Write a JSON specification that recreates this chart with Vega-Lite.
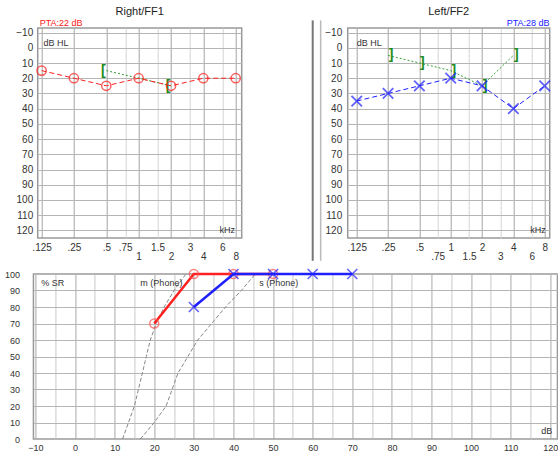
{
  "$schema": "https://vega.github.io/schema/vega-lite/v6.json",
  "padding": {"left": 3, "top": 5, "right": 0, "bottom": 0},
  "background": "white",
  "config": {
    "font": "Liberation Sans",
    "view": {"stroke": "#999", "strokeWidth": 1.5},
    "axis": {"labelFont": "Liberation Sans", "labelFontSize": 10, "labelColor": "#333", "domain": false, "ticks": false, "gridColor": "#b5b5b5", "gridWidth": 1, "title": null, "labelOverlap": false}
  },
  "datasets": {
    "rightAC": [{"f": 0.125, "db": 15}, {"f": 0.25, "db": 20}, {"f": 0.5, "db": 25}, {"f": 1, "db": 20}, {"f": 2, "db": 25}, {"f": 4, "db": 20}, {"f": 8, "db": 20}],
    "rightBC": [{"f": 0.5, "db": 15}, {"f": 2, "db": 25}],
    "leftAC": [{"f": 0.125, "db": 35}, {"f": 0.25, "db": 30}, {"f": 0.5, "db": 25}, {"f": 1, "db": 20}, {"f": 2, "db": 25}, {"f": 4, "db": 40}, {"f": 8, "db": 25}],
    "leftBC": [{"f": 0.25, "db": 5}, {"f": 0.5, "db": 10}, {"f": 1, "db": 15}, {"f": 2, "db": 25}, {"f": 4, "db": 5}],
    "speechR": [{"db": 20, "pct": 70}, {"db": 30, "pct": 100}, {"db": 40, "pct": 100}, {"db": 50, "pct": 100}],
    "speechL": [{"db": 30, "pct": 80}, {"db": 40, "pct": 100}, {"db": 50, "pct": 100}, {"db": 60, "pct": 100}, {"db": 70, "pct": 100}],
    "refCurves": [
      {"curve": "m", "db": 12, "pct": 0}, {"curve": "m", "db": 13.5, "pct": 10}, {"curve": "m", "db": 15, "pct": 20}, {"curve": "m", "db": 16, "pct": 30}, {"curve": "m", "db": 17, "pct": 40}, {"curve": "m", "db": 18, "pct": 50}, {"curve": "m", "db": 19, "pct": 60}, {"curve": "m", "db": 20.5, "pct": 70}, {"curve": "m", "db": 22.5, "pct": 80}, {"curve": "m", "db": 25, "pct": 90}, {"curve": "m", "db": 28, "pct": 100},
      {"curve": "s", "db": 16.5, "pct": 0}, {"curve": "s", "db": 20, "pct": 10}, {"curve": "s", "db": 23, "pct": 20}, {"curve": "s", "db": 24.5, "pct": 30}, {"curve": "s", "db": 26, "pct": 40}, {"curve": "s", "db": 28.5, "pct": 50}, {"curve": "s", "db": 31, "pct": 60}, {"curve": "s", "db": 34.5, "pct": 70}, {"curve": "s", "db": 38, "pct": 80}, {"curve": "s", "db": 42, "pct": 90}, {"curve": "s", "db": 45.5, "pct": 100}
    ],
    "one": [{"k": 1}]
  },
  "vconcat": [
    {
      "hconcat": [
        {
          "width": 204, "height": 210,
          "title": {"text": "Right/FF1", "fontSize": 11, "fontWeight": "normal", "color": "#222", "offset": 2},
          "layer": [
            {"data": {"name": "rightBC"}, "mark": {"type": "line", "color": "#33a033", "strokeDash": [2, 2], "strokeWidth": 1},
              "encoding": {
                "x": {"field": "f", "type": "quantitative", "scale": {"type": "log", "domain": [0.115, 9.1], "nice": false},
                  "axis": {"values": [0.125, 0.25, 0.5, 0.75, 1, 1.5, 2, 3, 4, 6, 8], "tickCount": 100, "labelFlush": false, "labelOverlap": false,
                    "labelExpr": "datum.value < 1 ? slice(toString(datum.value), 1) : toString(datum.value)",
                    "labelPadding": {"condition": {"test": "indexof([1,2,4,8], datum.value) >= 0", "value": 13}, "value": 4},
                    "gridColor": {"condition": {"test": "indexof([0.75,1.5,3,6], datum.value) >= 0", "value": "#d5d5d5"}, "value": "#a5a5a5"}}},
                "y": {"field": "db", "type": "quantitative", "scale": {"domain": [-13, 125], "reverse": true, "nice": false, "zero": false},
                  "axis": {"values": [-10, 0, 10, 20, 30, 40, 50, 60, 70, 80, 90, 100, 110, 120], "tickCount": 100, "labelPadding": 5, "labelOverlap": false,
                    "title": "'", "titleFontSize": 6, "titlePadding": 3, "titleColor": "rgba(0,0,0,0)"}}
              }},
            {"data": {"name": "rightBC"}, "mark": {"type": "text", "text": "[", "color": "#1e8c1e", "fontSize": 14, "fontWeight": "bold", "dx": -3},
              "encoding": {"x": {"field": "f", "type": "quantitative"}, "y": {"field": "db", "type": "quantitative"}}},
            {"data": {"name": "rightAC"}, "mark": {"type": "line", "color": "#ff2020", "strokeDash": [5, 3], "strokeWidth": 1},
              "encoding": {"x": {"field": "f", "type": "quantitative"}, "y": {"field": "db", "type": "quantitative"}}},
            {"data": {"name": "rightAC"}, "mark": {"type": "point", "shape": "circle", "color": "#ff2020", "size": 85, "strokeWidth": 1.5, "filled": false},
              "encoding": {"x": {"field": "f", "type": "quantitative"}, "y": {"field": "db", "type": "quantitative"}}},
            {"data": {"name": "one"}, "mark": {"type": "text", "text": "PTA:22 dB", "color": "#ff2020", "fontSize": 9, "align": "left", "baseline": "bottom"},
              "encoding": {"x": {"datum": 0.12, "type": "quantitative"}, "y": {"datum": -13, "type": "quantitative"}}},
            {"data": {"name": "one"}, "mark": {"type": "text", "text": "dB HL", "color": "#333", "fontSize": 9, "align": "left", "baseline": "middle"},
              "encoding": {"x": {"datum": 0.13, "type": "quantitative"}, "y": {"datum": -3, "type": "quantitative"}}},
            {"data": {"name": "one"}, "mark": {"type": "text", "text": "kHz", "color": "#333", "fontSize": 9, "align": "right", "baseline": "middle"},
              "encoding": {"x": {"datum": 7.9, "type": "quantitative"}, "y": {"datum": 120, "type": "quantitative"}}}
          ]
        },
        {
          "width": 202, "height": 210,
          "title": {"text": "Left/FF2", "fontSize": 11, "fontWeight": "normal", "color": "#222", "offset": 2},
          "layer": [
            {"data": {"name": "leftBC"}, "mark": {"type": "line", "color": "#33a033", "strokeDash": [2, 2], "strokeWidth": 1},
              "encoding": {
                "x": {"field": "f", "type": "quantitative", "scale": {"type": "log", "domain": [0.1024, 8.94], "nice": false},
                  "axis": {"values": [0.125, 0.25, 0.5, 0.75, 1, 1.5, 2, 3, 4, 6, 8], "tickCount": 100, "labelFlush": false, "labelOverlap": false,
                    "labelExpr": "datum.value < 1 ? slice(toString(datum.value), 1) : toString(datum.value)",
                    "labelPadding": {"condition": {"test": "indexof([0.75,1.5,3,6], datum.value) >= 0", "value": 13}, "value": 4},
                    "gridColor": {"condition": {"test": "indexof([0.75,1.5,3,6], datum.value) >= 0", "value": "#d5d5d5"}, "value": "#a5a5a5"}}},
                "y": {"field": "db", "type": "quantitative", "scale": {"domain": [-13, 125], "reverse": true, "nice": false, "zero": false},
                  "axis": {"values": [-10, 0, 10, 20, 30, 40, 50, 60, 70, 80, 90, 100, 110, 120], "tickCount": 100, "labelPadding": 6, "labelOverlap": false}}
              }},
            {"data": {"name": "one"}, "mark": {"type": "rule", "color": "#777", "strokeWidth": 2},
              "encoding": {"x": {"datum": 0.0472, "type": "quantitative"}, "y": {"datum": -18, "type": "quantitative"}, "y2": {"datum": 140}}},
            {"data": {"name": "one"}, "mark": {"type": "rule", "color": "#bbb", "strokeWidth": 1.5},
              "encoding": {"x": {"datum": 0.0563, "type": "quantitative"}, "y": {"datum": -18, "type": "quantitative"}, "y2": {"datum": 140}}},
            {"data": {"name": "leftBC"}, "mark": {"type": "text", "text": "]", "color": "#1e8c1e", "fontSize": 14, "fontWeight": "bold", "dx": 3},
              "encoding": {"x": {"field": "f", "type": "quantitative"}, "y": {"field": "db", "type": "quantitative"}}},
            {"data": {"name": "leftAC"}, "mark": {"type": "line", "color": "#2020ff", "strokeDash": [5, 3], "strokeWidth": 1},
              "encoding": {"x": {"field": "f", "type": "quantitative"}, "y": {"field": "db", "type": "quantitative"}}},
            {"data": {"name": "leftAC"}, "mark": {"type": "point", "shape": "M-1,-1L1,1M-1,1L1,-1", "color": "#2020ff", "size": 110, "strokeWidth": 1.8, "filled": false},
              "encoding": {"x": {"field": "f", "type": "quantitative"}, "y": {"field": "db", "type": "quantitative"}}},
            {"data": {"name": "one"}, "mark": {"type": "text", "text": "PTA:28 dB", "color": "#2020ff", "fontSize": 9, "align": "right", "baseline": "bottom"},
              "encoding": {"x": {"datum": 8.9, "type": "quantitative"}, "y": {"datum": -13, "type": "quantitative"}}},
            {"data": {"name": "one"}, "mark": {"type": "text", "text": "dB HL", "color": "#333", "fontSize": 9, "align": "left", "baseline": "middle"},
              "encoding": {"x": {"datum": 0.125, "type": "quantitative"}, "y": {"datum": -3, "type": "quantitative"}}},
            {"data": {"name": "one"}, "mark": {"type": "text", "text": "kHz", "color": "#333", "fontSize": 9, "align": "right", "baseline": "middle"},
              "encoding": {"x": {"datum": 8.2, "type": "quantitative"}, "y": {"datum": 120, "type": "quantitative"}}}
          ]
        }
      ],
      "spacing": 66
    },
    {
      "width": 524, "height": 165,
      "layer": [
        {"data": {"name": "refCurves"}, "mark": {"type": "line", "color": "#888", "strokeDash": [4, 2], "strokeWidth": 1},
          "encoding": {
            "x": {"field": "db", "type": "quantitative", "scale": {"domain": [-10.5, 121.8], "nice": false, "zero": false},
              "axis": {"values": [-10, -5, 0, 5, 10, 15, 20, 25, 30, 35, 40, 45, 50, 55, 60, 65, 70, 75, 80, 85, 90, 95, 100, 105, 110, 115, 120], "tickCount": 100,
                "labelExpr": "datum.value % 10 == 0 ? datum.label : ''", "labelFlush": false, "labelOverlap": false, "labelPadding": 4, "labelFontSize": 9,
                "gridColor": {"condition": {"test": "datum.value % 10 == 0", "value": "#a8a8a8"}, "value": "#c8c8c8"}}},
            "y": {"field": "pct", "type": "quantitative", "scale": {"domain": [0, 100], "nice": false},
              "axis": {"values": [0, 10, 20, 30, 40, 50, 60, 70, 80, 90, 100], "tickCount": 100, "labelPadding": 14, "labelFontSize": 9, "labelOverlap": false}},
            "detail": {"field": "curve"}
          }},
        {"data": {"name": "speechR"}, "mark": {"type": "line", "color": "#ff2020", "strokeWidth": 2.5},
          "encoding": {"x": {"field": "db", "type": "quantitative"}, "y": {"field": "pct", "type": "quantitative"}}},
        {"data": {"name": "speechR"}, "mark": {"type": "point", "shape": "circle", "color": "#ff5050", "size": 80, "strokeWidth": 1.5, "filled": false},
          "encoding": {"x": {"field": "db", "type": "quantitative"}, "y": {"field": "pct", "type": "quantitative"}}},
        {"data": {"name": "speechL"}, "mark": {"type": "line", "color": "#2020ff", "strokeWidth": 2.5},
          "encoding": {"x": {"field": "db", "type": "quantitative"}, "y": {"field": "pct", "type": "quantitative"}}},
        {"data": {"name": "speechL"}, "mark": {"type": "point", "shape": "M-1,-1L1,1M-1,1L1,-1", "color": "#2020ff", "size": 100, "strokeWidth": 1.6, "filled": false},
          "encoding": {"x": {"field": "db", "type": "quantitative"}, "y": {"field": "pct", "type": "quantitative"}}},
        {"data": {"name": "one"}, "mark": {"type": "text", "text": "% SR", "color": "#333", "fontSize": 9, "align": "left", "baseline": "middle"},
          "encoding": {"x": {"datum": -8.5, "type": "quantitative"}, "y": {"datum": 94.5, "type": "quantitative"}}},
        {"data": {"name": "one"}, "mark": {"type": "text", "text": "m (Phone)", "color": "#333", "fontSize": 9, "align": "left", "baseline": "middle"},
          "encoding": {"x": {"datum": 16.5, "type": "quantitative"}, "y": {"datum": 94.5, "type": "quantitative"}}},
        {"data": {"name": "one"}, "mark": {"type": "text", "text": "s (Phone)", "color": "#333", "fontSize": 9, "align": "left", "baseline": "middle"},
          "encoding": {"x": {"datum": 46.5, "type": "quantitative"}, "y": {"datum": 94.5, "type": "quantitative"}}},
        {"data": {"name": "one"}, "mark": {"type": "text", "text": "dB", "color": "#333", "fontSize": 9, "align": "right", "baseline": "middle"},
          "encoding": {"x": {"datum": 120.5, "type": "quantitative"}, "y": {"datum": 5, "type": "quantitative"}}}
      ]
    }
  ],
  "spacing": 2,
  "center": true
}
